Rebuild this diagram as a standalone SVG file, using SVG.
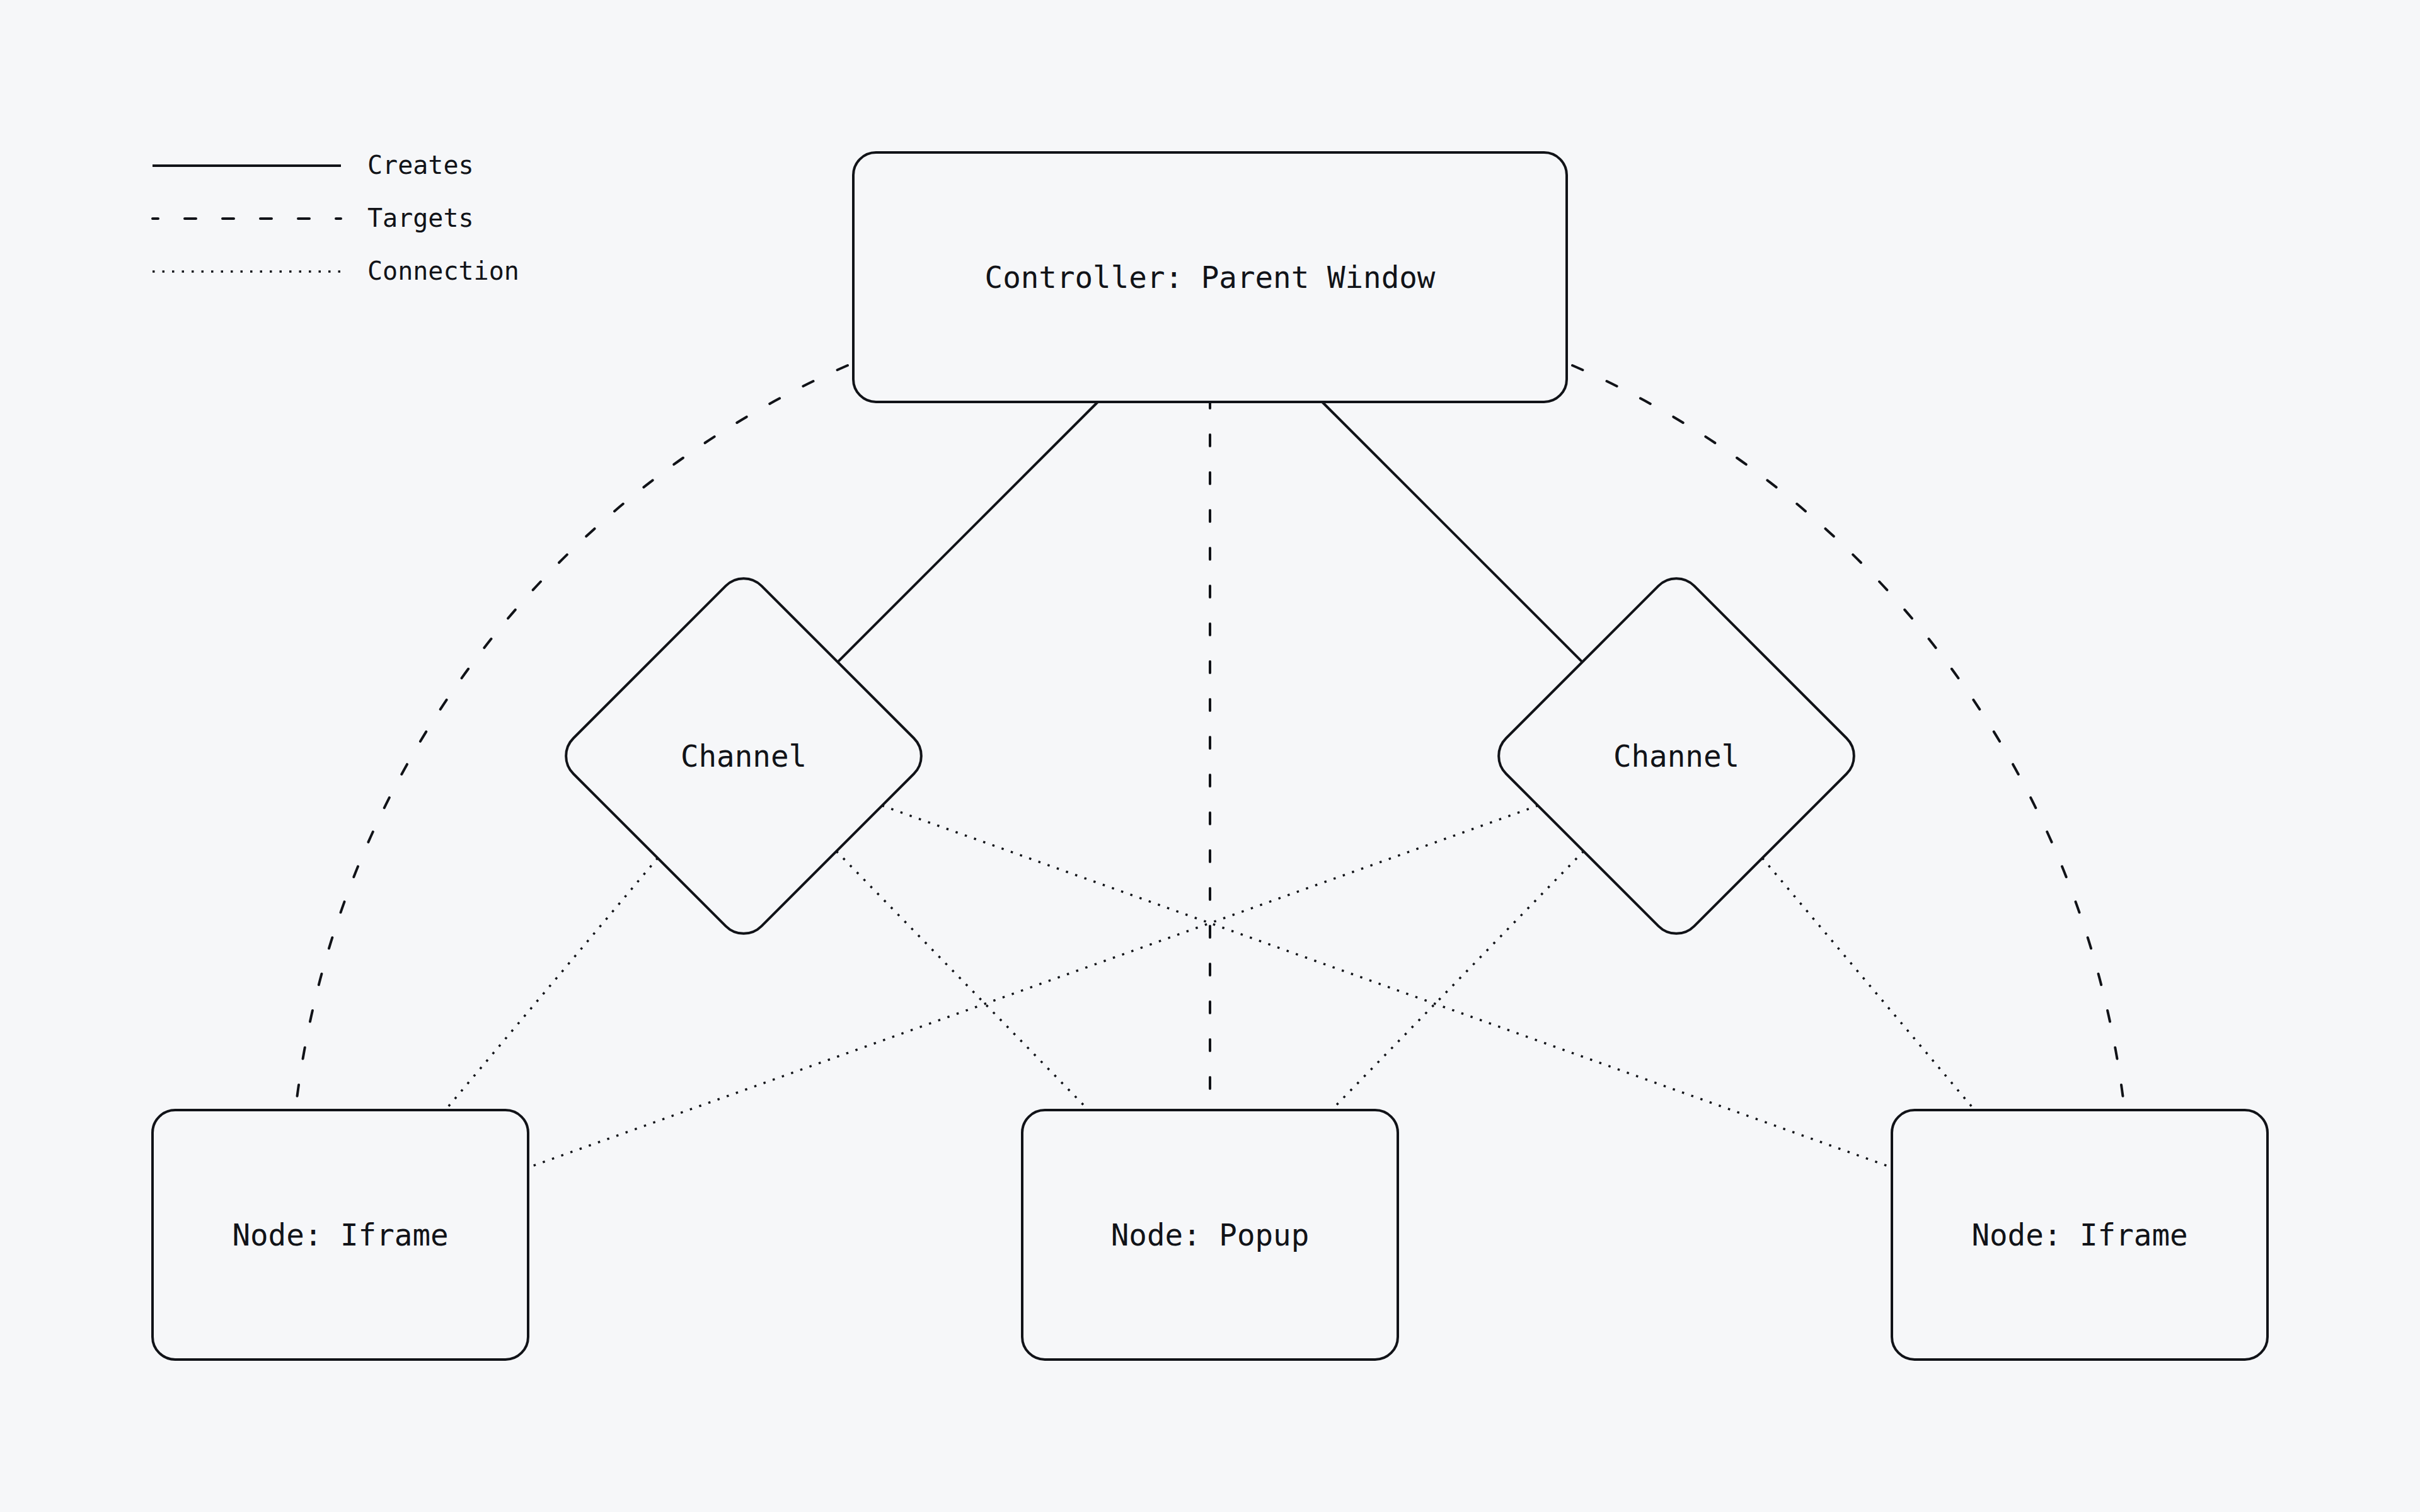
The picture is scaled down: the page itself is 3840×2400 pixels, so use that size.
<svg xmlns="http://www.w3.org/2000/svg" width="3840" height="2400" viewBox="0 0 3840 2400">
  <style>
    .bg { fill: #f6f7f9; }
    .shape { fill: #f6f7f9; stroke: #111318; stroke-width: 4; }
    .lbl { font-family: "DejaVu Sans Mono", "Liberation Mono", monospace; font-size: 47.5px; fill: #111318; text-anchor: middle; }
    .leg { font-family: "DejaVu Sans Mono", "Liberation Mono", monospace; font-size: 40px; fill: #111318; }
    .ln { fill: none; stroke: #111318; stroke-width: 4; }
    .creates { }
    .targets { stroke-dasharray: 18 42; stroke-linecap: round; }
    .conn { stroke-width: 3.5; stroke-dasharray: 3.5 12; }
  </style>
  <rect class="bg" x="0" y="0" width="3840" height="2400"/>

  <g id="legend">
    <line class="ln creates" x1="242" y1="263" x2="541" y2="263"/>
    <text class="leg" x="583" y="276">Creates</text>
    <line class="ln targets" x1="242" y1="347" x2="541" y2="347" stroke-dashoffset="9"/>
    <text class="leg" x="583" y="360">Targets</text>
    <line class="ln conn" x1="242" y1="431" x2="541" y2="431"/>
    <text class="leg" x="583" y="444">Connection</text>
  </g>

  <g id="connectors">
    <!-- Creates -->
    <line class="ln creates" x1="1742" y1="638" x2="1329.2" y2="1050.8"/>
    <line class="ln creates" x1="2098" y1="638" x2="2510.8" y2="1050.8"/>
    <!-- Targets -->
    <line class="ln targets" x1="1920" y1="638" x2="1920" y2="1762" stroke-dashoffset="8"/>
    <path class="ln targets" d="M 1345 580 A 1474 1474 0 0 0 470 1752"/>
    <path class="ln targets" d="M 2495 580 A 1474 1474 0 0 1 3370 1752"/>
    <!-- Connections -->
    <line class="ln conn" x1="1043.6" y1="1362" x2="706.7" y2="1762"/>
    <line class="ln conn" x1="1327.2" y1="1351.2" x2="1727.2" y2="1762"/>
    <line class="ln conn" x1="1399.6" y1="1278.7" x2="3002" y2="1853.2"/>
    <line class="ln conn" x1="2440.4" y1="1278.7" x2="838" y2="1853.2"/>
    <line class="ln conn" x1="2512.8" y1="1351.2" x2="2112.8" y2="1762"/>
    <line class="ln conn" x1="2796.4" y1="1362" x2="3133.3" y2="1762"/>
  </g>

  <g id="controller">
    <rect class="shape" x="1354" y="242" width="1132" height="396" rx="36"/>
    <text class="lbl" x="1920" y="457">Controller: Parent Window</text>
  </g>

  <g id="channel-left">
    <rect class="shape" x="969" y="989" width="422" height="422" rx="40" transform="rotate(45 1180 1200)"/>
    <text class="lbl" x="1180" y="1217">Channel</text>
  </g>

  <g id="channel-right">
    <rect class="shape" x="2449" y="989" width="422" height="422" rx="40" transform="rotate(45 2660 1200)"/>
    <text class="lbl" x="2660" y="1217">Channel</text>
  </g>

  <g id="node-iframe-left">
    <rect class="shape" x="242" y="1762" width="596" height="396" rx="36"/>
    <text class="lbl" x="540" y="1977">Node: Iframe</text>
  </g>

  <g id="node-popup">
    <rect class="shape" x="1622" y="1762" width="596" height="396" rx="36"/>
    <text class="lbl" x="1920" y="1977">Node: Popup</text>
  </g>

  <g id="node-iframe-right">
    <rect class="shape" x="3002" y="1762" width="596" height="396" rx="36"/>
    <text class="lbl" x="3300" y="1977">Node: Iframe</text>
  </g>
</svg>
